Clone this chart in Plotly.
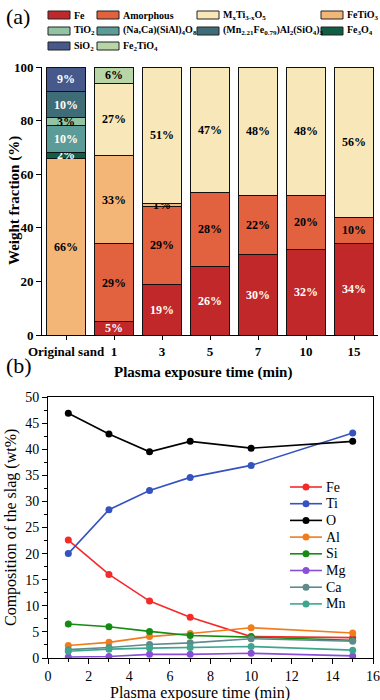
import plotly.graph_objects as go

# ---------------- Panel (a) data ----------------
samples = ["Original sand", "1", "3", "5", "7", "10", "15"]
phase_names = ["Fe", "Amorphous", "FeTiO3", "Fe3O4", "(Na,Ca)(SiAl)4O8", "TiO2",
               "(Mn2.21Fe0.79)Al2(SiO4)3", "SiO2", "MxTi3-xO5", "Fe2TiO4"]
fe_frac        = [None, 5, 19, 25.6, 30, 32, 34]
amorphous_frac = [None, 29, 29, 27.7, 22, 20, 10]
fetio3_frac    = [66, 33, 1, None, None, None, None]
fe3o4_frac     = [2, None, None, None, None, None, None]
naca_frac      = [10, None, None, None, None, None, None]
tio2_frac      = [3, None, None, None, None, None, None]
mn_frac        = [10, None, None, None, None, None, None]
sio2_frac      = [9, None, None, None, None, None, None]
mxti_frac      = [None, 27, 51, 46.7, 48, 48, 56]
fe2tio4_frac   = [None, 6, None, None, None, None, None]

phase_colors = {
    "Fe": "#c0282a", "Amorphous": "#e2613f", "MxTi3-xO5": "#f8e7b9", "FeTiO3": "#f4b677",
    "TiO2": "#92c3a2", "(Na,Ca)(SiAl)4O8": "#5c9c98", "(Mn2.21Fe0.79)Al2(SiO4)3": "#3e6d78",
    "Fe3O4": "#0f5e45", "SiO2": "#46598a", "Fe2TiO4": "#b7d5a6",
}
dark_phases = {"Fe", "(Na,Ca)(SiAl)4O8", "(Mn2.21Fe0.79)Al2(SiO4)3", "Fe3O4", "SiO2"}
phase_labels = {
    "Fe": "Fe", "Amorphous": "Amorphous", "MxTi3-xO5": "M<sub>x</sub>Ti<sub>3-x</sub>O<sub>5</sub>",
    "FeTiO3": "FeTiO<sub>3</sub>", "TiO2": "TiO<sub>2</sub>",
    "(Na,Ca)(SiAl)4O8": "(Na,Ca)(SiAl)<sub>4</sub>O<sub>8</sub>",
    "(Mn2.21Fe0.79)Al2(SiO4)3": "(Mn<sub>2.21</sub>Fe<sub>0.79</sub>)Al<sub>2</sub>(SiO<sub>4</sub>)<sub>3</sub>",
    "Fe3O4": "Fe<sub>3</sub>O<sub>4</sub>", "SiO2": "SiO<sub>2</sub>", "Fe2TiO4": "Fe<sub>2</sub>TiO<sub>4</sub>",
}
phase_values = [fe_frac, amorphous_frac, fetio3_frac, fe3o4_frac, naca_frac, tio2_frac,
                mn_frac, sio2_frac, mxti_frac, fe2tio4_frac]
legend_order = [["Fe", "Amorphous", "MxTi3-xO5", "FeTiO3"],
                ["TiO2", "(Na,Ca)(SiAl)4O8", "(Mn2.21Fe0.79)Al2(SiO4)3", "Fe3O4"],
                ["SiO2", "Fe2TiO4"]]

# ---------------- Panel (b) data ----------------
time_min = [1, 3, 5, 7, 10, 15]
elements = ["Fe", "Ti", "O", "Al", "Si", "Mg", "Ca", "Mn"]
fe_wt = [22.6, 16.0, 10.9, 7.8, 4.1, 3.9]
ti_wt = [20.0, 28.4, 32.1, 34.6, 36.9, 43.1]
o_wt  = [46.9, 42.9, 39.5, 41.5, 40.2, 41.5]
al_wt = [2.4, 3.0, 4.1, 4.7, 5.8, 4.8]
si_wt = [6.5, 6.0, 5.1, 4.3, 4.0, 3.4]
mg_wt = [0.2, 0.3, 0.7, 0.7, 0.9, 0.4]
ca_wt = [1.6, 2.0, 2.6, 2.9, 3.7, 3.2]
mn_wt = [1.3, 1.7, 1.9, 2.0, 2.2, 1.5]
element_values = [fe_wt, ti_wt, o_wt, al_wt, si_wt, mg_wt, ca_wt, mn_wt]
element_colors = ["#f52a2a", "#3553c0", "#000000", "#f07c1c", "#148c14", "#8a4fd8", "#5f8a8a", "#3fa68e"]

FONT = "Liberation Serif"
W, H = 380, 700

fig = go.Figure()

for name, vals in zip(phase_names, phase_values):
    txt = ["" if v is None else f"{round(v)}%" for v in vals]
    fig.add_trace(go.Bar(
        x=samples, y=vals, name=name, text=txt, textposition="inside",
        insidetextanchor="middle", textangle=0, cliponaxis=False,
        textfont=dict(family=FONT, size=12, weight="bold",
                      color="white" if name in dark_phases else "black"),
        marker=dict(color=phase_colors[name], line=dict(color="#111111", width=1)),
        showlegend=False, xaxis="x", yaxis="y", hoverinfo="skip",
    ))

for name, vals, col in zip(elements, element_values, element_colors):
    fig.add_trace(go.Scatter(
        x=time_min, y=vals, name=name, mode="lines+markers",
        line=dict(color=col, width=1.6), marker=dict(color=col, size=7),
        xaxis="x2", yaxis="y2", showlegend=False,
    ))

def px_x(p):
    return p / W

def px_y(p):
    return 1 - p / H

bold13 = dict(family=FONT, size=13, weight="bold", color="black")
fig.update_layout(
    template="none",
    width=W, height=H, margin=dict(l=0, r=0, t=0, b=0),
    paper_bgcolor="white", plot_bgcolor="white",
    font=dict(family=FONT, color="black"),
    barmode="stack", bargap=0.19, showlegend=False,
    uniformtext=dict(minsize=12, mode="show"),
    xaxis=dict(domain=[px_x(42), px_x(378)], type="category", anchor="y",
               showline=True, linecolor="black", linewidth=1, ticks="outside", ticklen=4,
               tickcolor="black", showgrid=False, zeroline=False, tickfont=bold13),
    yaxis=dict(domain=[px_y(335), px_y(67)], range=[0, 100], anchor="x",
               showline=True, linecolor="black", linewidth=1, ticks="outside", ticklen=5,
               tickcolor="black",
               tickvals=[0, 20, 40, 60, 80, 100], showgrid=False, zeroline=False,
               tickfont=bold13),
    xaxis2=dict(domain=[px_x(48), px_x(373)], range=[0, 16], dtick=2, anchor="y2",
                showline=True, mirror=True, linecolor="black", linewidth=1, ticks="outside", ticklen=5,
                tickcolor="black",
                minor=dict(dtick=1, ticks="outside", ticklen=3, tickcolor="black"),
                showgrid=False, zeroline=False, tickfont=dict(family=FONT, size=14)),
    yaxis2=dict(domain=[px_y(658), px_y(397)], range=[0, 50], dtick=5, anchor="x2",
                showline=True, mirror=True, linecolor="black", linewidth=1, ticks="outside", ticklen=5,
                tickcolor="black",
                minor=dict(dtick=2.5, ticks="outside", ticklen=3, tickcolor="black"),
                showgrid=False, zeroline=False, tickfont=dict(family=FONT, size=14)),
)

shapes = []
annotations = []

def add_text(x, y, text, size, bold=False, angle=0, xanchor="center"):
    f = dict(family=FONT, size=size, color="black")
    if bold:
        f["weight"] = "bold"
    annotations.append(dict(xref="paper", yref="paper", x=px_x(x), y=px_y(y), xanchor=xanchor,
                            yanchor="middle", showarrow=False, text=text, textangle=angle, font=f))

# axis titles
add_text(203, 373, "Plasma exposure time (min)", 15, bold=True)
add_text(14, 201, "Weight fraction (%)", 15, bold=True, angle=-90)
add_text(200, 693, "Plasma exposure time (min)", 16)
add_text(11, 528, "Composition of the slag (wt%)", 16, angle=-90)

# manual legend for panel (a)
col_swatch_x = [48, 97, 197, 321]
row_y = [15, 31, 46]
for r, row in enumerate(legend_order):
    for c, name in enumerate(row):
        x0 = col_swatch_x[c]
        yc = row_y[r]
        shapes.append(dict(type="rect", xref="paper", yref="paper",
                           x0=px_x(x0), x1=px_x(x0 + 22), y0=px_y(yc + 4), y1=px_y(yc - 4),
                           fillcolor=phase_colors[name], line=dict(color="#222222", width=1)))
        add_text(x0 + 24, yc, phase_labels[name], 10, bold=True, xanchor="left")

# manual legend for panel (b)
leg_y0, leg_dy = 487, 16.7
for i, (name, col) in enumerate(zip(elements, element_colors)):
    yc = leg_y0 + i * leg_dy
    shapes.append(dict(type="line", xref="paper", yref="paper",
                       x0=px_x(290), x1=px_x(322), y0=px_y(yc), y1=px_y(yc),
                       line=dict(color=col, width=1.6)))
    shapes.append(dict(type="circle", xref="paper", yref="paper",
                       x0=px_x(302.5), x1=px_x(309.5), y0=px_y(yc + 3.5), y1=px_y(yc - 3.5),
                       fillcolor=col, line=dict(color=col, width=0)))
    add_text(324, yc, name, 14, xanchor="left")

add_text(4, 16, "(a)", 22, xanchor="left")
add_text(4, 365, "(b)", 22, xanchor="left")

fig.update_layout(shapes=shapes, annotations=annotations)

fig.write_html("out.html")
